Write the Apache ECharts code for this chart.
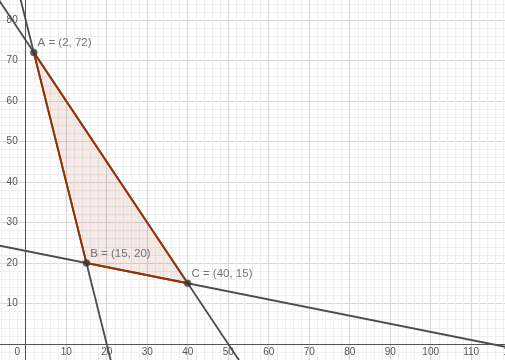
<!DOCTYPE html>
<html>
<head>
<meta charset="utf-8">
<script src="https://cdn.jsdelivr.net/npm/echarts@6/dist/echarts.min.js"></script>
<style>
  html, body { margin: 0; padding: 0; background: #fff; }
  #main { width: 505px; height: 360px; }
</style>
</head>
<body>
<div id="main"></div>
<script>
// vertices of the feasible region
var pointNames = ['A', 'B', 'C'];
var pointX = [2, 15, 40];
var pointY = [72, 20, 15];
// each constraint line goes through two of the vertices
var lineFrom = [0, 0, 1];
var lineTo = [1, 2, 2];
var xRange = [-10, 120];
var yRange = [-10, 90];

var fontFam = 'Liberation Sans, Arial, sans-serif';

function extend_line (i, j) {
    var x1 = pointX[i], y1 = pointY[i], x2 = pointX[j], y2 = pointY[j];
    var k = (y2 - y1) / (x2 - x1);
    return [
        [xRange[0], y1 + k * (xRange[0] - x1)],
        [xRange[1], y1 + k * (xRange[1] - x1)]
    ];
}

function render_chart () {
    var chartobj = echarts.init(document.getElementById('main'), null, {renderer: 'canvas'});
    var pts = pointX.map(function (x, i) { return [x, pointY[i]]; });

    var series = [];
    for (var n = 0; n < lineFrom.length; n++) {
        series.push({
            type: 'line',
            z: 3,
            silent: true,
            symbol: 'none',
            clip: true,
            data: extend_line(lineFrom[n], lineTo[n]),
            lineStyle: {color: '#4d4d4d', width: 1.8}
        });
    }
    // filled triangle, edges drawn over the lines
    series.push({
        type: 'custom',
        z: 4,
        silent: true,
        clip: true,
        data: [0],
        renderItem: function (params, api) {
            var poly = pts.map(function (p) { return api.coord(p); });
            return {
                type: 'polygon',
                shape: {points: poly},
                style: {
                    fill: 'rgba(153,51,0,0.1)',
                    stroke: '#993300',
                    lineWidth: 1.9,
                    lineJoin: 'round'
                }
            };
        }
    });
    series.push({
        type: 'scatter',
        z: 5,
        symbolSize: 7,
        itemStyle: {color: '#333333', borderColor: '#555', borderWidth: 0.5},
        data: pts.map(function (p, i) { return {name: pointNames[i], value: p}; }),
        label: {
            show: true,
            position: 'right',
            distance: 0,
            offset: [0, -9.5],
            color: '#555',
            fontSize: 11.5,
            fontFamily: fontFam,
            formatter: function (p) {
                return p.name + ' = (' + p.value[0] + ', ' + p.value[1] + ')';
            }
        }
    });

    var option = {
        animation: false,
        grid: {
            left: -14.8, right: -6.7, top: -20.5, bottom: -24.5,
            containLabel: false,
            outerBoundsMode: 'none'
        },
        xAxis: {
            type: 'value',
            position: 'bottom',
            offset: -40.5,
            min: xRange[0],
            max: xRange[1],
            interval: 10,
            axisLine: {onZero: false, lineStyle: {color: '#555', width: 1}},
            axisTick: {show: false},
            axisLabel: {
                margin: 3,
                color: '#555',
                fontSize: 10,
                fontFamily: fontFam,
                formatter: function (v) {
                    if (v < 0) return '';
                    if (v === 0) return '{o|0}';
                    return String(v);
                },
                rich: {o: {padding: [0, 17, 0, 0], fontSize: 10, color: '#555', fontFamily: fontFam}}
            },
            splitLine: {show: true, lineStyle: {color: '#d8d8d8', width: 1.2}},
            minorTick: {show: false, splitNumber: 5},
            minorSplitLine: {show: true, lineStyle: {color: '#efefef', width: 1}}
        },
        yAxis: {
            type: 'value',
            position: 'left',
            offset: -40.5,
            min: yRange[0],
            max: yRange[1],
            interval: 10,
            axisLine: {onZero: false, lineStyle: {color: '#555', width: 1}},
            axisTick: {show: false},
            axisLabel: {
                margin: 8,
                color: '#555',
                fontSize: 10,
                fontFamily: fontFam,
                formatter: function (v) { return v > 0 ? String(v) : ''; }
            },
            splitLine: {show: true, lineStyle: {color: '#d8d8d8', width: 1.2}},
            minorTick: {show: false, splitNumber: 5},
            minorSplitLine: {show: true, lineStyle: {color: '#efefef', width: 1}}
        },
        series: series
    };
    chartobj.setOption(option);
}
render_chart();
</script>
</body>
</html>
